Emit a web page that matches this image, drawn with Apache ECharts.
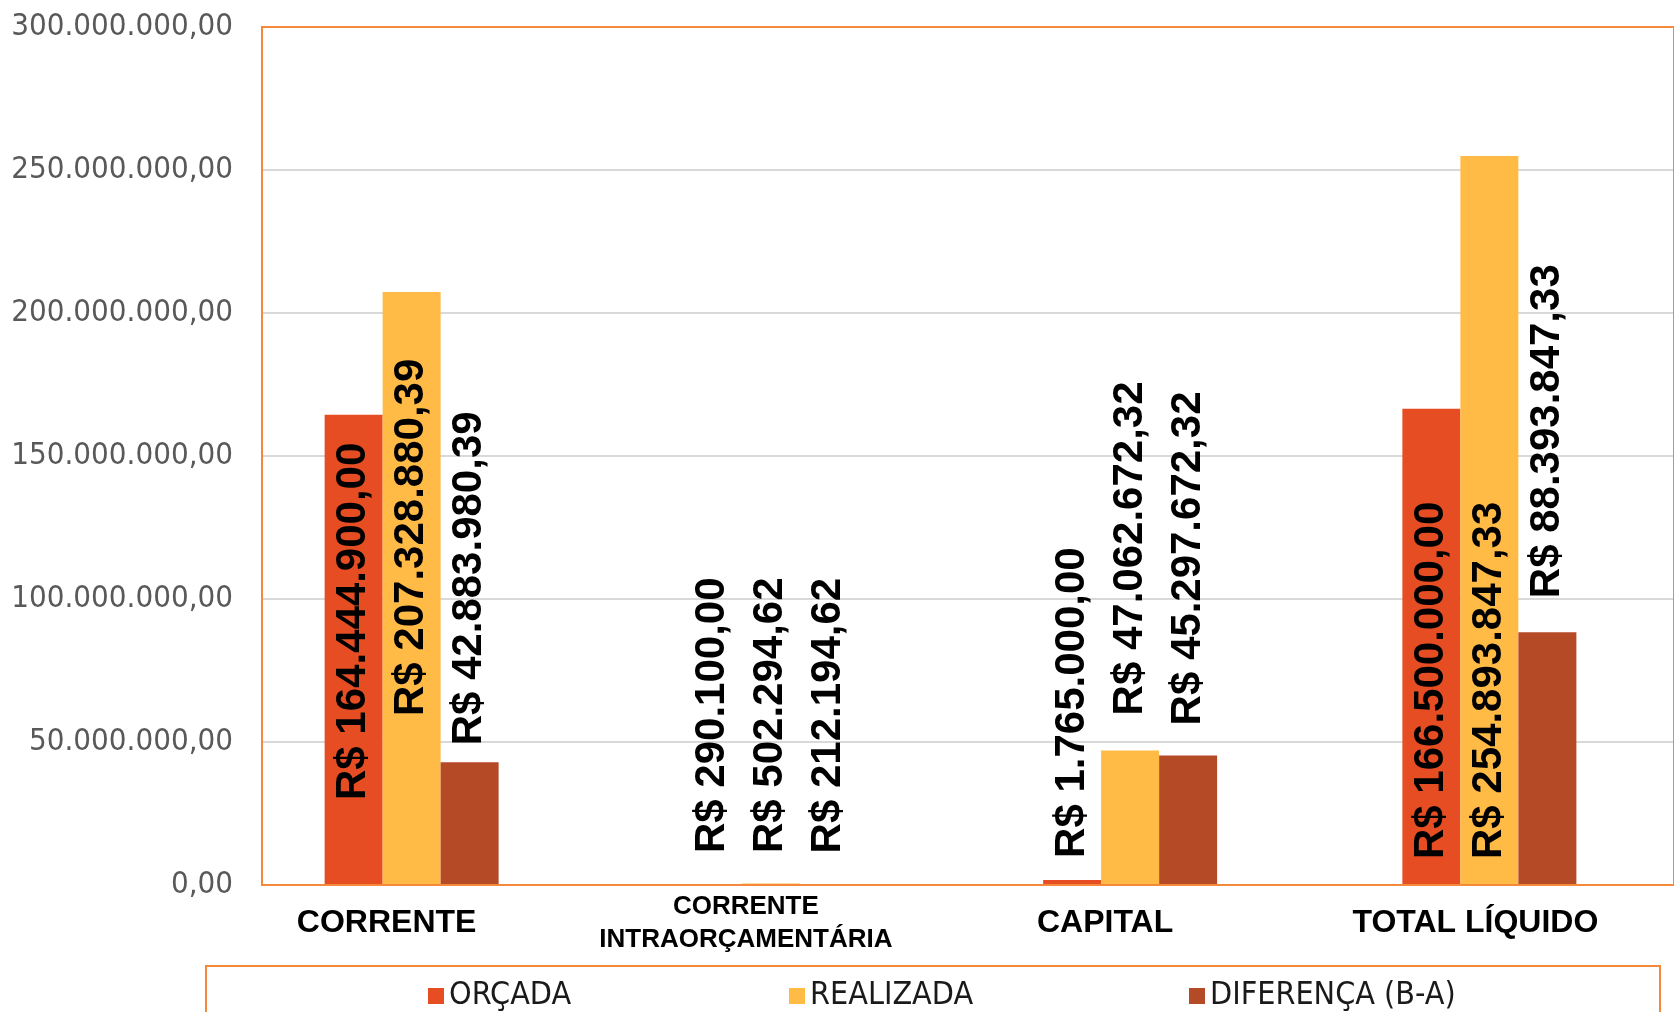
<!DOCTYPE html>
<html>
<head>
<meta charset="utf-8">
<script src="https://cdn.jsdelivr.net/npm/echarts@6/dist/echarts.min.js"></script>
<style>
  html, body { margin: 0; padding: 0; background: #fff; }
  #chartsDOM { width: 1674px; height: 1012px; }
</style>
</head>
<body>
<div id="chartsDOM"></div>
<script>
// categorias e valores (R$)
var categorias = ['CORRENTE', 'CORRENTE\nINTRAORÇAMENTÁRIA', 'CAPITAL', 'TOTAL LÍQUIDO'];
var orcada = [164444900.00, 290100.00, 1765000.00, 166500000.00];
var realizada = [207328880.39, 502294.62, 47062672.32, 254893847.33];
var diferenca = [42883980.39, 212194.62, 45297672.32, 88393847.33];
var yTicks = { min: 0, max: 300000000, interval: 50000000 };

// onde fica o rótulo de cada barra: 'in' = dentro a partir da base, 'out' = acima da barra
var rotuloOrcada = [['in', 85], ['in', 32], ['out', 22], ['in', 26]];
var rotuloRealizada = [['in', 169], ['in', 32], ['out', 35], ['in', 26]];
var rotuloDiferenca = [['out', 17], ['out', 31], ['out', 30], ['out', 34]];

var laranja = '#F5883A';
var cores = ['#E64D22', '#FFBB46', '#B54A27'];

// formato brasileiro 1.234.567,89
function fmtBR(v) {
    var partes = v.toFixed(2).split('.');
    var inteiro = partes[0].replace(/\B(?=(\d{3})+(?!\d))/g, '.');
    return inteiro + ',' + partes[1];
}

function montaDados(valores, rotulos) {
    return valores.map(function (v, i) {
        var r = rotulos[i];
        return {
            value: v,
            label: {
                position: r[0] === 'in' ? 'insideBottom' : 'top',
                distance: r[1]
            }
        };
    });
}

var rotuloBase = {
    show: true,
    rotate: 90,
    align: 'left',
    verticalAlign: 'middle',
    fontFamily: 'Liberation Sans, Arial, sans-serif',
    fontWeight: 'bold',
    fontSize: 42,
    color: '#000',
    formatter: function (p) { return 'R$ ' + fmtBR(p.value); }
};

function serie(nome, valores, rotulos, cor) {
    return {
        name: nome,
        type: 'bar',
        xAxisIndex: 1,
        yAxisIndex: 1,
        barWidth: 58,
        barGap: '0%',
        itemStyle: { color: cor },
        label: rotuloBase,
        data: montaDados(valores, rotulos)
    };
}

var fonteLegenda = {
    fontFamily: 'DejaVu Sans Condensed, DejaVu Sans, sans-serif',
    fontSize: 32,
    color: '#1a1a1a'
};

function legenda(nome, esquerda) {
    return {
        data: [nome],
        left: esquerda,
        top: 975,
        icon: 'rect',
        itemWidth: 16,
        itemHeight: 16,
        textStyle: fonteLegenda
    };
}

var fonteCategoria = {
    fontFamily: 'Liberation Sans, Arial, sans-serif',
    fontWeight: 'bold',
    color: '#000'
};

var myChart = echarts.init(document.getElementById('chartsDOM'));

var option = {
    animation: false,
    backgroundColor: '#fff',
    grid: [
        // moldura com eixo Y e linhas de grade
        { left: 262, top: 27, right: -5, bottom: 127, show: true, borderColor: laranja, borderWidth: 2, z: 3 },
        // barras
        { left: 232, top: 27, right: 5, bottom: 127 }
    ],
    xAxis: [
        { gridIndex: 0, type: 'category', data: categorias, show: false },
        {
            gridIndex: 1,
            type: 'category',
            data: categorias,
            axisLine: { show: false },
            axisTick: { show: false },
            axisLabel: {
                interval: 0,
                margin: 38,
                padding: [0, 50, 0, 0],
                verticalAlign: 'middle',
                fontFamily: 'Liberation Sans, Arial, sans-serif',
                fontWeight: 'bold',
                fontSize: 32,
                color: '#000',
                formatter: function (v) {
                    if (v.indexOf('\n') >= 0) {
                        return v.split('\n').map(function (s) { return '{s|' + s + '}'; }).join('\n');
                    }
                    if (v === 'TOTAL LÍQUIDO') return '{t|' + v + '}';
                    return v;
                },
                rich: {
                    s: Object.assign({ fontSize: 26, lineHeight: 33 }, fonteCategoria),
                    t: Object.assign({ fontSize: 32, padding: [0, 0, 0, 22] }, fonteCategoria)
                }
            }
        }
    ],
    yAxis: [
        {
            gridIndex: 0,
            type: 'value',
            min: yTicks.min,
            max: yTicks.max,
            interval: yTicks.interval,
            axisLine: { show: false },
            axisTick: { show: false },
            splitLine: { lineStyle: { color: '#D9D9D9', width: 2 } },
            axisLabel: {
                margin: 29,
                padding: [6, 0, 0, 0],
                fontFamily: 'DejaVu Sans Condensed, DejaVu Sans, sans-serif',
                fontSize: 31,
                color: '#595959',
                formatter: function (v) { return fmtBR(v); }
            }
        },
        {
            gridIndex: 1,
            type: 'value',
            min: yTicks.min,
            max: yTicks.max,
            interval: yTicks.interval,
            show: false,
            splitLine: { show: false }
        }
    ],
    legend: [
        legenda('ORÇADA', 423),
        legenda('REALIZADA', 784),
        legenda('DIFERENÇA (B-A)', 1184)
    ],
    graphic: [
        {
            type: 'rect',
            shape: { x: 206, y: 966, width: 1454, height: 80 },
            style: { fill: 'none', stroke: laranja, lineWidth: 2 },
            z: -1
        }
    ],
    series: [
        serie('ORÇADA', orcada, rotuloOrcada, cores[0]),
        serie('REALIZADA', realizada, rotuloRealizada, cores[1]),
        serie('DIFERENÇA (B-A)', diferenca, rotuloDiferenca, cores[2])
    ]
};

myChart.setOption(option);
window.addEventListener('resize', function () { myChart.resize(); });
</script>
</body>
</html>
